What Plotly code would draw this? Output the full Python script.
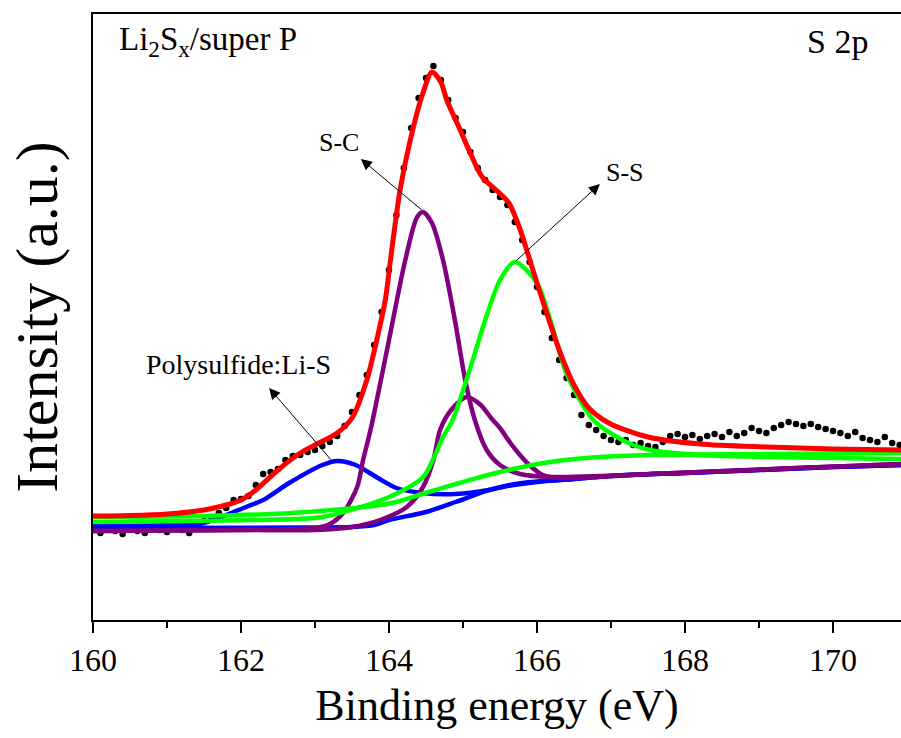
import plotly.graph_objects as go

FONT = "Liberation Serif, Times New Roman, serif"

# ---- experimental data (black dots), binding energy 160.0 .. 170.9 eV ----
exp_x = [round(160.0 + 0.1 * i, 1) for i in range(110)]
exp_y = [90, 87, 92, 89, 86, 91, 89, 87, 92, 90,
         88, 93, 90, 87, 92, 99, 102, 107, 112, 120,
         121, 124, 135, 146, 148, 151, 160, 164, 165, 168,
         170, 174, 178, 184, 194, 208, 225, 245, 275, 308,
         350, 405, 452, 492, 522, 542, 554, 540, 520, 502,
         488, 468, 452, 440, 430, 423, 415, 398, 380, 358,
         333, 308, 282, 260, 242, 225, 205, 195, 190, 184,
         180, 178, 180, 175, 177, 174, 173, 178, 184, 186,
         183, 185, 181, 184, 186, 183, 188, 184, 187, 192,
         189, 187, 192, 195, 198, 196, 194, 196, 193, 191,
         189, 187, 184, 188, 182, 180, 178, 183, 177, 175]

# ---- total fit envelope (red) ----
fit_x = [160, 160.5, 161, 161.5, 161.8, 162, 162.2, 162.5, 162.8, 163, 163.3, 163.5,
         163.7, 163.85, 163.95, 164.02, 164.15, 164.32, 164.45, 164.58, 164.7, 164.78,
         164.95, 165.08, 165.26, 165.49, 165.62, 165.76, 165.89, 166.03, 166.3, 166.5,
         166.7, 166.97, 167.5, 168.2, 169.1, 170, 170.92]
fit_y = [104, 104.5, 106, 110, 115, 120, 130, 150, 167, 175, 187, 202,
         240, 285, 320, 360, 430, 490, 525, 548, 538, 520,
         492, 470, 443, 427, 417, 393, 363, 330, 270, 235,
         212, 197, 183, 176, 173, 171, 170]

# ---- Polysulfide Li-S component (blue) ----
lis_x = [160, 161, 161.5, 161.9, 162.1, 162.3, 162.65, 163.1, 163.3, 163.55, 163.85,
         164.1, 164.45, 164.9, 165.35, 165.6, 166.0, 166.5, 167, 168, 169, 170, 170.92]
lis_y = [94, 95, 97, 108, 114, 120, 137, 155, 159, 155, 142,
         132, 127, 126, 130, 134, 138, 141, 144, 147, 150, 153, 155]
lis_bg_x = [160, 163, 163.5, 163.8, 164.0, 164.5, 164.9, 165.35, 165.8, 166.5, 167,
            168, 169, 170, 170.92]
lis_bg_y = [92, 92.5, 93, 95, 100, 108, 118, 130, 137, 141, 144, 147, 150, 153, 155]

# ---- S-C components (purple) ----
sc1_x = [160, 161, 162, 163, 163.2, 163.38, 163.57, 163.65, 163.74, 163.78, 164.0,
         164.22, 164.38, 164.46, 164.58, 164.73, 164.89, 165.03, 165.16, 165.32,
         165.5, 165.77, 166.18, 167.53, 168.88, 170.23, 170.92]
sc1_y = [89, 89.5, 90, 92, 96, 107, 133, 160, 187, 200, 280,
         360, 403, 408, 397, 360, 300, 240, 200, 170,
         155, 146, 143, 146, 150, 154, 156]
sc2_x = [160, 162, 163, 163.5, 163.88, 164.24, 164.46, 164.6, 164.69, 164.84, 165.05,
         165.24, 165.38, 165.5, 165.64, 165.77, 165.91, 166.08, 166.3, 167.53, 168.88,
         170.23, 170.92]
sc2_y = [89, 90, 90, 93, 100, 113, 133, 160, 190, 210, 223,
         215, 202, 192, 177, 165, 154, 145, 142, 146, 150,
         154, 156]

# ---- S-S component (green) ----
ss_x = [160, 162.1, 163.1, 164.0, 164.46, 164.73, 164.86, 165.09, 165.3, 165.5, 165.7,
        166.0, 166.18, 166.38, 166.58, 166.76, 166.99, 167.3, 167.53, 168.2, 169.1,
        170.0, 170.92]
ss_y = [98, 100, 103, 123, 143, 183, 200, 250, 300, 340, 358,
        337, 300, 250, 220, 200, 187, 175, 170, 165, 163,
        162, 161]
ss_bg_x = [160, 161.45, 162.69, 164.04, 164.49, 164.95, 165.5, 166.18, 166.85, 167.53,
           168.88, 170.92]
ss_bg_y = [103, 104, 107, 117, 127, 137, 148, 158, 163, 165, 166, 167]

x_ticks = [160, 162, 164, 166, 168, 170]

fig = go.Figure()

fig.add_trace(go.Scatter(x=exp_x, y=exp_y, mode="markers",
                         marker=dict(color="black", size=6.5), showlegend=False))

def curve(x, y, color, width):
    fig.add_trace(go.Scatter(x=x, y=y, mode="lines",
                             line=dict(color=color, width=width, shape="spline", smoothing=0.8),
                             showlegend=False))

curve(lis_bg_x, lis_bg_y, "#0000FF", 4.5)
curve(lis_x, lis_y, "#0000FF", 4.5)
curve(sc2_x, sc2_y, "#800080", 4.5)
curve(sc1_x, sc1_y, "#800080", 4.5)
curve(ss_bg_x, ss_bg_y, "#00FF00", 4.5)
curve(ss_x, ss_y, "#00FF00", 4.5)
curve(fit_x, fit_y, "#FF0000", 5)

def arrow(hx, hy, tx, ty):
    fig.add_annotation(x=hx, y=hy, ax=tx, ay=ty, xref="x", yref="y", axref="x", ayref="y",
                       text="", showarrow=True, arrowhead=2, arrowsize=2.2, arrowwidth=1,
                       arrowcolor="black")

arrow(163.62, 461, 164.46, 409)   # S-C
arrow(166.85, 436, 165.70, 358)   # S-S
arrow(162.38, 232, 163.23, 159)   # Polysulfide

def label(x, y, txt, size):
    fig.add_annotation(x=x, y=y, xref="x", yref="y", text=txt, showarrow=False,
                       font=dict(family=FONT, size=size, color="black"))

label(163.32, 478, "S-C", 26)
label(167.19, 448, "S-S", 26)
label(161.97, 256, "Polysulfide:Li-S", 28)

fig.add_annotation(x=0.03, y=0.955, xref="paper", yref="paper", xanchor="left", yanchor="middle",
                   text="Li<sub>2</sub>S<sub>x</sub>/super P", showarrow=False,
                   font=dict(family=FONT, size=33, color="black"))
fig.add_annotation(x=0.962, y=0.955, xref="paper", yref="paper", xanchor="right", yanchor="middle",
                   text="S 2p", showarrow=False,
                   font=dict(family=FONT, size=34, color="black"))

fig.update_xaxes(range=[160, 160 + 808 / 74], tickvals=x_ticks,
                 ticktext=[str(v) for v in x_ticks],
                 showline=True, linecolor="black", linewidth=2, mirror=True,
                 ticks="outside", ticklen=11, tickwidth=1.5, tickcolor="black",
                 minor=dict(dtick=1, ticks="outside", ticklen=6, tickwidth=1.5, tickcolor="black"),
                 showgrid=False, zeroline=False,
                 tickfont=dict(family=FONT, size=32, color="black"),
                 title=dict(text="Binding energy (eV)", font=dict(family=FONT, size=44, color="black"),
                            standoff=12))
fig.update_yaxes(range=[0, 606], showline=True, linecolor="black", linewidth=2, mirror=False,
                 showticklabels=False, ticks="", showgrid=False, zeroline=False,
                 title=dict(text="Intensity (a.u.)", font=dict(family=FONT, size=60, color="black"),
                            standoff=14))

fig.update_layout(width=901, height=738, margin=dict(l=93, r=0, t=14, b=118, autoexpand=False),
                  paper_bgcolor="white", plot_bgcolor="white")

fig.write_html("out.html", config={"displayModeBar": False},
               post_script="document.body.style.margin='0';document.body.style.overflow='hidden';")
